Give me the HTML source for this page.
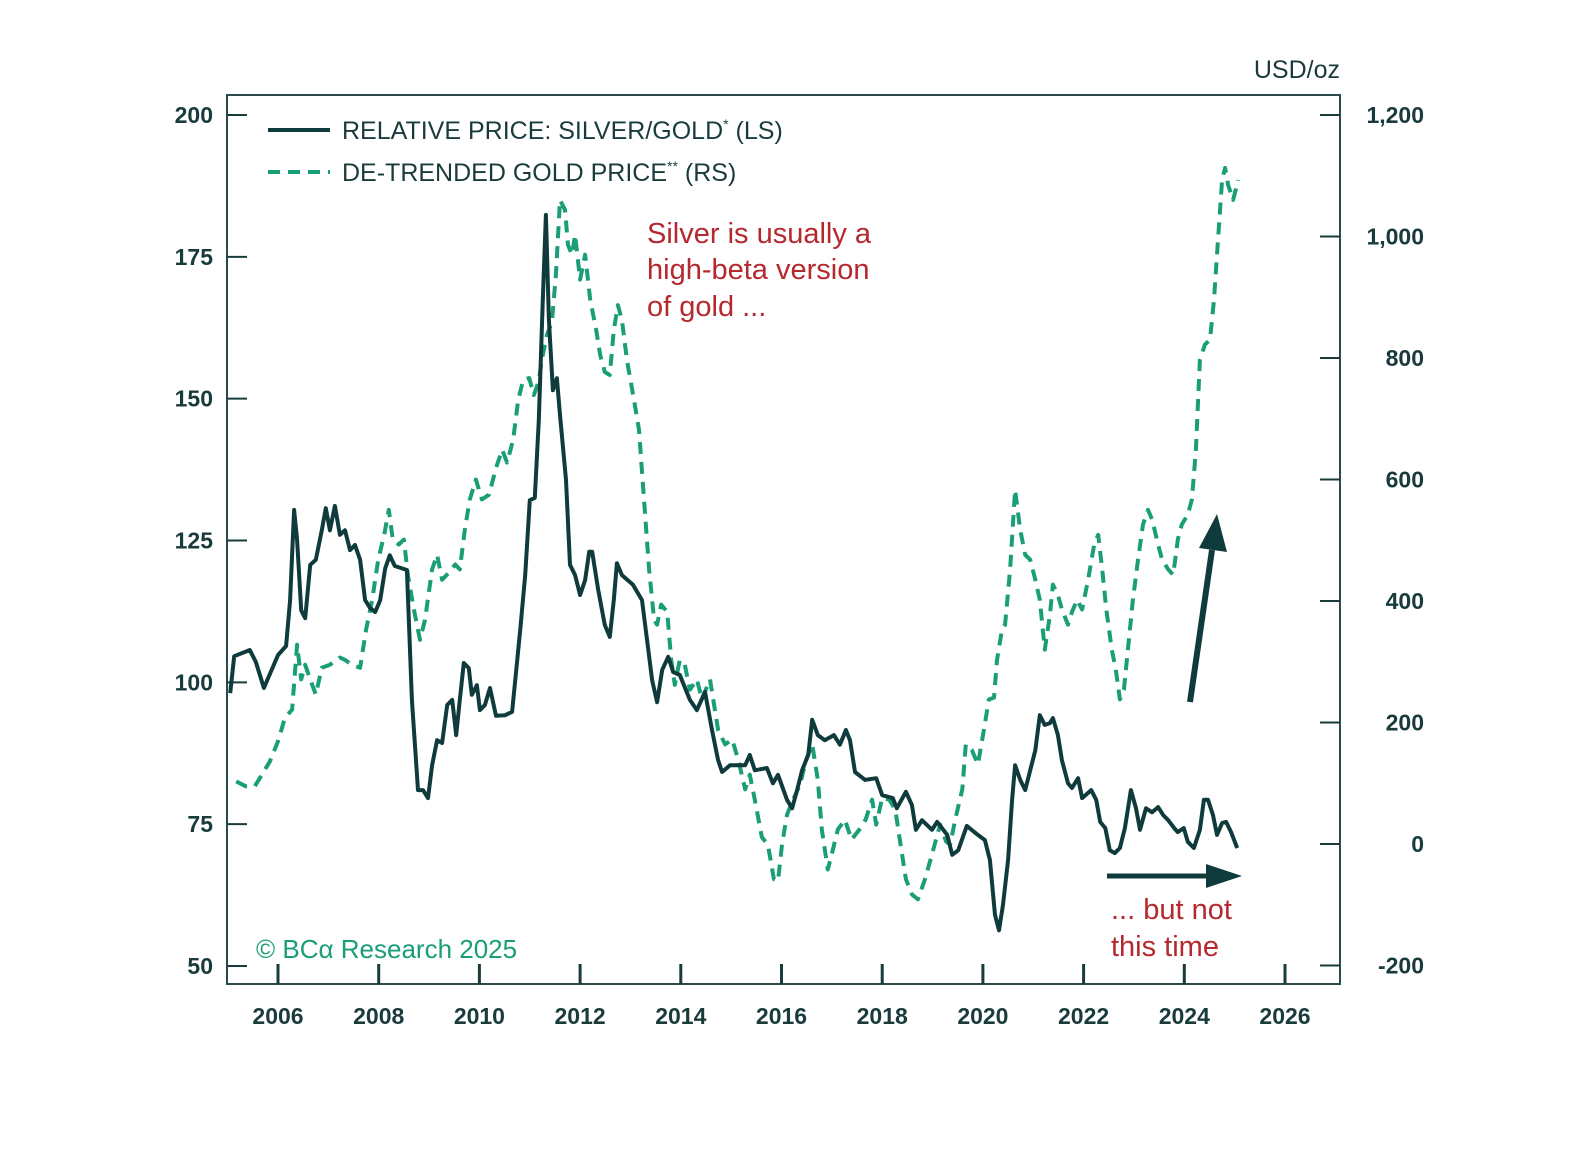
<!DOCTYPE html>
<html><head><meta charset="utf-8"><style>
body{margin:0;background:#fff;}
svg text{font-family:"Liberation Sans",sans-serif;}
</style></head><body>
<svg id="chart" width="1595" height="1144" viewBox="0 0 1595 1144">
<g id="axes"></g><g id="series"></g>
<g>
<line x1="268" y1="130" x2="330" y2="130" stroke="#0f3b3c" stroke-width="4"/>
<text x="342" y="139" font-size="25" fill="#1a3b3c">RELATIVE PRICE: SILVER/GOLD<tspan font-size="14" dy="-10">*</tspan><tspan dy="10"> (LS)</tspan></text>
<line x1="268" y1="172" x2="330" y2="172" stroke="#1a9e77" stroke-width="4" stroke-dasharray="12 8"/>
<text x="342" y="181" font-size="25" fill="#1a3b3c">DE-TRENDED GOLD PRICE<tspan font-size="14" dy="-10">**</tspan><tspan dy="10"> (RS)</tspan></text>
</g>
<text x="1340" y="78" font-size="25" fill="#1a3b3c" text-anchor="end">USD/oz</text>
<g fill="#b5282e" font-size="29">
<text x="647" y="243">Silver is usually a</text><text x="647" y="279">high-beta version</text><text x="647" y="316">of gold ...</text></g>
<g fill="#b5282e" font-size="29">
<text x="1111" y="919">... but not</text><text x="1111" y="956">this time</text></g>
<g><line x1="1190" y1="702" x2="1212" y2="550" stroke="#0f3b3c" stroke-width="6"/><polygon points="1217,514 1227,552 1199,548" fill="#0f3b3c"/></g>
<g><line x1="1107" y1="876" x2="1210" y2="876" stroke="#0f3b3c" stroke-width="5"/><polygon points="1242,876 1206,864 1206,888" fill="#0f3b3c"/></g>
<text x="256" y="958" font-family="Liberation Serif, serif" font-size="26" fill="#1a9e77">© BCα Research 2025</text>
</svg>
<script>
const xTicks=[2006,2008,2010,2012,2014,2016,2018,2020,2022,2024,2026];
const leftTicks=[50,75,100,125,150,175,200];
const rightTicks=[-200,0,200,400,600,800,1000,1200];
const rightTickLabels=["-200","0","200","400","600","800","1,000","1,200"];
const silverDates=[2005.05,2005.13,2005.44,2005.56,2005.72,2006.0,2006.16,2006.24,2006.32,2006.38,2006.46,2006.54,2006.64,2006.75,2006.87,2006.95,2007.03,2007.13,2007.23,2007.33,2007.43,2007.53,2007.63,2007.73,2007.83,2007.93,2008.03,2008.13,2008.22,2008.32,2008.56,2008.66,2008.78,2008.88,2008.98,2009.06,2009.16,2009.26,2009.36,2009.46,2009.54,2009.61,2009.69,2009.79,2009.85,2009.95,2010.01,2010.11,2010.21,2010.33,2010.51,2010.65,2010.81,2010.91,2011.0,2011.10,2011.18,2011.26,2011.32,2011.38,2011.46,2011.54,2011.60,2011.72,2011.80,2011.90,2012.0,2012.10,2012.18,2012.24,2012.36,2012.49,2012.59,2012.67,2012.73,2012.83,2013.05,2013.23,2013.35,2013.43,2013.53,2013.63,2013.75,2013.85,2013.98,2014.18,2014.32,2014.48,2014.62,2014.74,2014.82,2014.98,2015.28,2015.37,2015.47,2015.71,2015.83,2015.93,2016.11,2016.21,2016.31,2016.41,2016.53,2016.61,2016.72,2016.86,2017.04,2017.16,2017.28,2017.36,2017.46,2017.66,2017.88,2018.0,2018.21,2018.29,2018.47,2018.59,2018.67,2018.79,2018.99,2019.09,2019.29,2019.39,2019.51,2019.68,2019.90,2020.04,2020.14,2020.24,2020.32,2020.40,2020.50,2020.58,2020.64,2020.74,2020.84,2020.94,2021.04,2021.13,2021.23,2021.33,2021.39,2021.49,2021.57,2021.69,2021.77,2021.89,2021.97,2022.15,2022.25,2022.33,2022.43,2022.52,2022.62,2022.72,2022.82,2022.94,2023.04,2023.12,2023.24,2023.36,2023.48,2023.58,2023.68,2023.80,2023.87,2023.99,2024.07,2024.19,2024.31,2024.39,2024.47,2024.57,2024.65,2024.75,2024.83,2024.93,2025.05];
const silverValues=[98.1,104.6,105.7,103.6,99,104.8,106.4,114.5,130.4,125.1,112.7,111.3,120.7,121.6,126.8,130.7,126.8,131.1,126,126.8,123.3,124.2,121.6,114.5,113.1,112.4,114.5,120.1,122.4,120.5,119.8,96.9,81,81,79.6,85.4,89.8,89.3,96,96.9,90.7,96.9,103.4,102.5,97.8,99.5,95.1,96,99,94.1,94.2,94.8,109.2,118.9,132.1,132.5,146.2,167.4,182.4,163.9,151.5,153.6,147.1,135.7,120.7,118.9,115.4,118,123,123,116.3,110.1,108,114.5,121,118.9,117.2,114.5,106,100.4,96.5,102.2,104.5,101.8,101.3,96.9,95.1,98.3,91.6,86.3,84.2,85.4,85.4,87.2,84.5,84.9,82.2,83.7,79.3,77.8,81,84.5,87.2,93.4,90.7,89.8,90.7,89,91.6,89.8,84.2,82.8,83.1,80.1,79.6,77.8,80.7,78.4,74,75.7,74,75.4,73.1,69.6,70.4,74.7,73.1,72.2,68.7,59,56.3,60.8,68.7,79.3,85.4,82.8,81,84.5,88,94.2,92.5,92.8,93.7,90.7,86.3,82.2,81.4,83.1,79.6,81,79.3,75.4,74.3,70.4,69.9,70.8,74.3,81,77.8,74,77.8,77.1,78,76.6,75.7,74.3,73.6,74.3,71.9,70.8,74,79.3,79.3,76.6,73.1,75.2,75.4,73.6,70.8];
const goldDates=[2005.17,2005.36,2005.54,2005.68,2005.84,2006.0,2006.14,2006.28,2006.38,2006.46,2006.54,2006.64,2006.75,2006.87,2007.03,2007.23,2007.33,2007.47,2007.63,2007.75,2007.87,2007.99,2008.11,2008.20,2008.28,2008.40,2008.50,2008.58,2008.70,2008.82,2008.92,2009.06,2009.16,2009.26,2009.40,2009.52,2009.61,2009.71,2009.81,2009.93,2010.05,2010.19,2010.33,2010.45,2010.55,2010.67,2010.77,2010.87,2010.99,2011.08,2011.18,2011.24,2011.34,2011.44,2011.52,2011.60,2011.70,2011.76,2011.84,2011.90,2012.0,2012.10,2012.20,2012.32,2012.40,2012.49,2012.59,2012.67,2012.75,2012.83,2012.93,2013.07,2013.17,2013.27,2013.37,2013.47,2013.53,2013.61,2013.73,2013.81,2013.88,2013.98,2014.08,2014.18,2014.32,2014.42,2014.58,2014.74,2014.88,2015.02,2015.14,2015.28,2015.37,2015.47,2015.61,2015.73,2015.85,2015.93,2016.01,2016.11,2016.23,2016.37,2016.49,2016.61,2016.72,2016.80,2016.92,2017.02,2017.12,2017.26,2017.39,2017.55,2017.67,2017.80,2017.88,2018.0,2018.14,2018.26,2018.35,2018.47,2018.59,2018.71,2018.85,2018.99,2019.15,2019.27,2019.35,2019.45,2019.59,2019.66,2019.78,2019.90,2020.02,2020.12,2020.22,2020.28,2020.38,2020.44,2020.54,2020.64,2020.74,2020.84,2020.94,2021.04,2021.13,2021.23,2021.33,2021.39,2021.49,2021.57,2021.69,2021.77,2021.87,2021.97,2022.09,2022.21,2022.29,2022.37,2022.45,2022.56,2022.64,2022.72,2022.80,2022.88,2022.98,2023.08,2023.18,2023.28,2023.36,2023.48,2023.56,2023.68,2023.78,2023.87,2023.95,2024.07,2024.15,2024.23,2024.31,2024.41,2024.51,2024.59,2024.67,2024.75,2024.81,2024.87,2024.97,2025.07];
const goldValues=[103,95,95,114,136,169,208,221,328,271,295,271,246,290,295,307,303,295,290,353,402,468,509,550,501,493,501,443,386,336,369,452,476,435,447,460,452,517,567,600,567,575,619,649,628,665,731,764,767,739,762,797,838,859,937,1060,1044,986,970,1003,929,970,896,846,805,777,772,846,887,863,797,731,682,567,452,369,361,394,382,303,262,303,295,254,271,238,271,188,164,172,139,90,114,73,11,-1,-58,-61,-1,48,73,98,139,164,106,24,-42,-9,24,40,7,24,40,73,32,76,73,57,7,-58,-83,-91,-58,-17,32,4,-1,40,90,164,155,131,188,238,241,303,353,361,452,583,517,476,468,435,402,320,377,427,410,386,361,382,402,386,435,493,509,452,386,320,287,238,254,320,402,468,526,550,534,493,468,452,443,501,526,542,567,649,797,822,830,896,994,1093,1113,1085,1060,1093];

const NS='http://www.w3.org/2000/svg';
const L=227,R=1340,T=95,B=984;
const xS=y=>278+(y-2006)*(1285-278)/20;
const yL=v=>966-(v-50)*(966-115)/150;
const yR=v=>844-v*(844-115)/1200;
function mk(tag,attrs,parent){const e=document.createElementNS(NS,tag);for(const k in attrs)e.setAttribute(k,attrs[k]);parent.appendChild(e);return e;}
const ax=document.getElementById('axes'),se=document.getElementById('series');
const C='#1a3b3c';
const frame=mk('rect',{x:L,y:T,width:R-L,height:B-T,fill:'none',stroke:'#2b4a4b','stroke-width':2},ax);


leftTicks.forEach(v=>{
  const y=yL(v);
  const t=mk('line',{x1:L,x2:L+20,y1:y,y2:y,stroke:C,'stroke-width':2},ax);
  
  
  const tx=mk('text',{x:213,y:y+8,'font-size':23,'font-weight':'bold',fill:C,'text-anchor':'end'},ax);
  tx.textContent=v;
  
  
});
rightTicks.forEach((v,i)=>{
  const y=yR(v);
  const t=mk('line',{x1:R-20,x2:R,y1:y,y2:y,stroke:C,'stroke-width':2},ax);
  
  
  const tx=mk('text',{x:1424,y:y+8,'font-size':23,'font-weight':'bold',fill:C,'text-anchor':'end'},ax);
  tx.textContent=rightTickLabels[i];
  
  
});
xTicks.forEach(yr=>{
  const x=xS(yr);
  const t=mk('line',{x1:x,x2:x,y1:964,y2:B,stroke:C,'stroke-width':3},ax);
  
  
  const tx=mk('text',{x:x,y:1024,'font-size':23,'font-weight':'bold',fill:C,'text-anchor':'middle'},ax);
  tx.textContent=yr;
  
  
});
const gp=mk('path',{d:goldDates.map((d,i)=>(i?'L':'M')+xS(d).toFixed(1)+','+yR(goldValues[i]).toFixed(1)).join(''),fill:'none',stroke:'#1a9e77','stroke-width':4,'stroke-dasharray':'12 8','stroke-linejoin':'round'},se);


const sp=mk('path',{d:silverDates.map((d,i)=>(i?'L':'M')+xS(d).toFixed(1)+','+yL(silverValues[i]).toFixed(1)).join(''),fill:'none',stroke:'#0f3b3c','stroke-width':4,'stroke-linejoin':'round'},se);


</script>
</body></html>
